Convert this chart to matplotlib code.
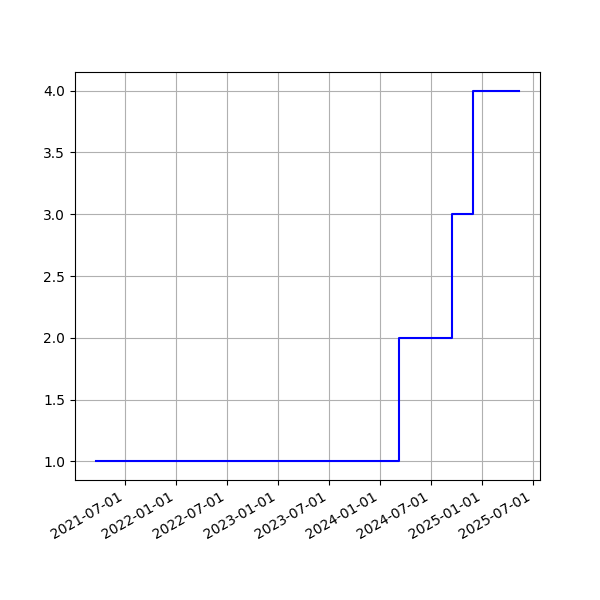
import matplotlib
matplotlib.use('Agg')
import matplotlib.pyplot as plt
import matplotlib.dates as mdates
import pandas as pd

dates = pd.to_datetime(['2021-03-20', '2024-03-07', '2024-09-14', '2024-11-27', '2025-05-12'])
values = [1, 2, 3, 4, 4]

fig, ax = plt.subplots(figsize=(6, 6), dpi=100)
ax.step(dates, values, where='post', color='blue')
ax.xaxis.set_major_locator(mdates.MonthLocator(bymonth=[1, 7]))
ax.xaxis.set_major_formatter(mdates.DateFormatter('%Y-%m-%d'))
ax.grid(True)
fig.autofmt_xdate()
plt.savefig('out.png')
